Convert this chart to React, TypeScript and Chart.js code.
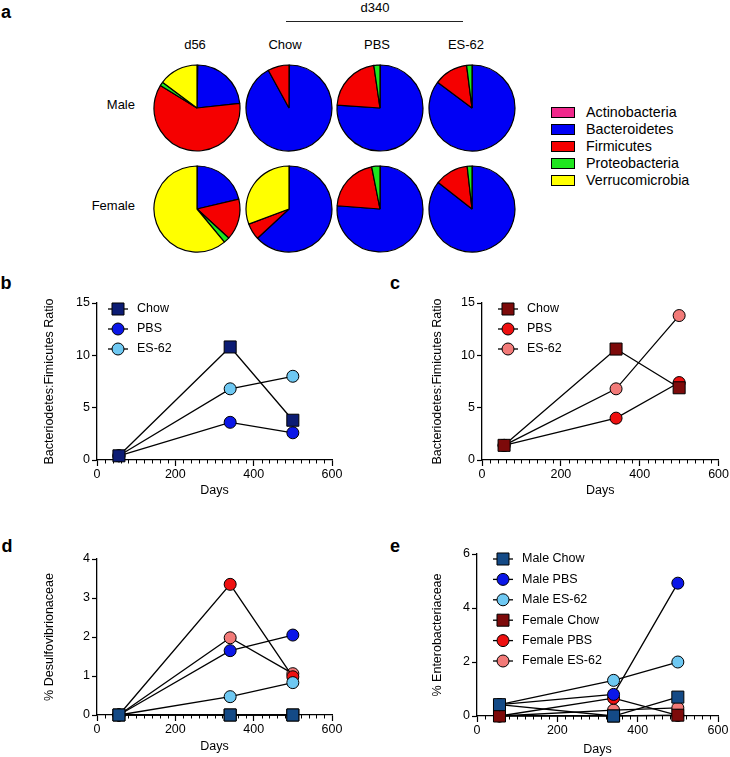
import React, { useEffect, useRef } from "react";
import { Chart, registerables } from "chart.js";

Chart.register(...registerables);

const FONT = "'Liberation Sans', Arial, Helvetica, sans-serif";
Chart.defaults.font.family = FONT;
Chart.defaults.color = "#000";

// ---------------- data: panel a (relative abundance, %) ----------------
const phyla = ["Actinobacteria", "Bacteroidetes", "Firmicutes", "Proteobacteria", "Verrucomicrobia"];
const pieColumns = ["d56", "Chow", "PBS", "ES-62"];
const pieRows = ["Male", "Female"];
const maleD56 = [0.3, 23.0, 60.5, 1.4, 14.8];
const maleChow = [0.1, 91.9, 8.0, 0, 0];
const malePBS = [0.1, 76.0, 21.6, 2.3, 0];
const maleES62 = [0.1, 85.1, 12.8, 2.0, 0];
const femaleD56 = [0.1, 21.2, 15.5, 2.2, 61.0];
const femaleChow = [0.1, 63.0, 6.2, 0, 30.7];
const femalePBS = [0.1, 76.1, 20.7, 3.1, 0];
const femaleES62 = [0.1, 85.5, 12.6, 1.8, 0];

// ---------------- data: panels b-e ----------------
const days = [56, 340, 500];
const dayTicks = [0, 200, 400, 600];
const ratioTicks = [0, 5, 10, 15];
const desulfoTicks = [0, 1, 2, 3, 4];
const enteroTicks = [0, 2, 4, 6];

const ratioMaleChow = [0.4, 10.8, 3.8];
const ratioMalePBS = [0.4, 3.6, 2.6];
const ratioMaleES62 = [0.4, 6.8, 8.0];
const ratioFemaleChow = [1.4, 10.6, 6.9];
const ratioFemalePBS = [1.4, 4.0, 7.4];
const ratioFemaleES62 = [1.4, 6.8, 13.8];

const desulfoMaleChow = [0, 0, 0];
const desulfoMalePBS = [0, 1.65, 2.05];
const desulfoMaleES62 = [0, 0.47, 0.83];
const desulfoFemaleChow = [0, 0, 0];
const desulfoFemalePBS = [0, 3.35, 0.98];
const desulfoFemaleES62 = [0, 1.98, 1.06];

const enteroMaleChow = [0.42, 0.0, 0.7];
const enteroMalePBS = [0.42, 0.8, 4.92];
const enteroMaleES62 = [0.42, 1.32, 2.0];
const enteroFemaleChow = [0.0, 0.0, 0.03];
const enteroFemalePBS = [0.0, 0.66, 0.02];
const enteroFemaleES62 = [0.0, 0.22, 0.3];

// ---------------- styles ----------------
const phylaColors = ["#f0288c", "#0000f5", "#f50000", "#1ee61e", "#ffff00"];
const cNavy = "#0c1c74";
const cMaleChow = "#144a86";
const cMalePBS = "#0b17e8";
const cMaleES = "#6ec8f2";
const cFemaleChow = "#7d0a0a";
const cFemalePBS = "#ee1010";
const cFemaleES = "#f27a78";

type Series = { label: string; values: number[]; color: string; square: boolean };

type PanelSpec = {
  left: number; top: number; width: number; height: number;
  area: { left: number; top: number; right: number; bottom: number };
  yTicks: number[];
  yTitle: string;
  yTitleX: number;
  daysY: number;
  legend: { x: number; y0: number; dy: number } | null;
  series: Series[];
};

const CIRCLE_R = 6;
const SQUARE_R = 8.5;
const TXT = 12.5;

function makeLineConfig(p: PanelSpec): any {
  const lh = TXT * 1.2;
  const plugin = {
    id: "prismDecor",
    beforeDatasetsDraw(chart: any) {
      const ctx = chart.ctx;
      const xs = chart.scales.x;
      const bottom = chart.chartArea.bottom;
      ctx.save();
      ctx.strokeStyle = "#000";
      ctx.lineWidth = 1;
      for (let v = 20; v < 600; v += 20) {
        if (v % 200 === 0) continue;
        const px = Math.round(xs.getPixelForValue(v)) + 0.5;
        ctx.beginPath();
        ctx.moveTo(px, bottom);
        ctx.lineTo(px, bottom + 3.5);
        ctx.stroke();
      }
      ctx.restore();
    },
    afterDraw(chart: any) {
      if (!p.legend) return;
      const ctx = chart.ctx;
      ctx.save();
      p.series.forEach((s, i) => {
        const cx = p.legend!.x - p.left;
        const cy = p.legend!.y0 + i * p.legend!.dy - p.top;
        ctx.strokeStyle = "#000";
        ctx.lineWidth = 1.3;
        ctx.beginPath();
        ctx.moveTo(cx - 10, cy);
        ctx.lineTo(cx + 10, cy);
        ctx.stroke();
        ctx.fillStyle = s.color;
        ctx.lineWidth = 1;
        ctx.beginPath();
        if (s.square) {
          const h = SQUARE_R * Math.SQRT1_2;
          ctx.rect(cx - h, cy - h, 2 * h, 2 * h);
        } else {
          ctx.arc(cx, cy, CIRCLE_R, 0, Math.PI * 2);
        }
        ctx.fill();
        ctx.stroke();
        ctx.fillStyle = "#000";
        ctx.font = `${TXT}px ${FONT}`;
        ctx.textBaseline = "middle";
        ctx.textAlign = "left";
        ctx.fillText(s.label, cx + 19, cy);
      });
      ctx.restore();
    },
  };
  const yMax = p.yTicks[p.yTicks.length - 1];
  return {
    type: "line",
    data: {
      datasets: p.series.map((s) => ({
        label: s.label,
        data: days.map((d, i) => ({ x: d, y: s.values[i] })),
        borderColor: "#000",
        borderWidth: 1.3,
        backgroundColor: s.color,
        pointBackgroundColor: s.color,
        pointBorderColor: "#000",
        pointBorderWidth: 1,
        pointRadius: s.square ? SQUARE_R : CIRCLE_R,
        pointStyle: s.square ? "rect" : "circle",
        tension: 0,
        fill: false,
        clip: false,
      })),
    },
    options: {
      responsive: false,
      animation: false,
      events: [],
      layout: {
        autoPadding: false,
        padding: {
          left: 0,
          bottom: 0,
          top: p.area.top - p.top,
          right: p.left + p.width - p.area.right,
        },
      },
      plugins: { legend: { display: false }, tooltip: { enabled: false } },
      scales: {
        x: {
          type: "linear",
          min: 0,
          max: 600,
          afterBuildTicks: (s: any) => { s.ticks = dayTicks.map((v) => ({ value: v })); },
          afterFit: (s: any) => { s.height = p.top + p.height - p.area.bottom; },
          ticks: { font: { size: TXT }, padding: 1, maxRotation: 0, autoSkip: false, color: "#000" },
          grid: { display: true, drawOnChartArea: false, drawTicks: true, tickLength: 6, tickColor: "#000", tickWidth: 1.2, color: "#000" },
          border: { display: true, color: "#000", width: 1.3 },
          title: {
            display: true,
            text: "Days",
            font: { size: TXT },
            color: "#000",
            padding: { top: 0, bottom: p.top + p.height - p.daysY - lh / 2 },
          },
        },
        y: {
          type: "linear",
          min: 0,
          max: yMax,
          afterBuildTicks: (s: any) => { s.ticks = p.yTicks.map((v) => ({ value: v })); },
          afterFit: (s: any) => { s.width = p.area.left - p.left; },
          ticks: { font: { size: TXT }, padding: 2, color: "#000" },
          grid: { display: true, drawOnChartArea: false, drawTicks: true, tickLength: 5, tickColor: "#000", tickWidth: 1.2, color: "#000" },
          border: { display: true, color: "#000", width: 1.3 },
          title: {
            display: true,
            text: p.yTitle,
            font: { size: TXT },
            color: "#000",
            padding: { top: p.yTitleX - p.left - lh / 2, bottom: 0 },
          },
        },
      },
    },
    plugins: [plugin],
  };
}

const panelB: PanelSpec = {
  left: 0, top: 270, width: 365, height: 235,
  area: { left: 97, top: 303, right: 332, bottom: 460 },
  yTicks: ratioTicks,
  yTitle: "Bacteriodetes:Fimicutes Ratio",
  yTitleX: 50,
  daysY: 491,
  legend: { x: 118, y0: 309, dy: 20 },
  series: [
    { label: "Chow", values: ratioMaleChow, color: cNavy, square: true },
    { label: "PBS", values: ratioMalePBS, color: cMalePBS, square: false },
    { label: "ES-62", values: ratioMaleES62, color: cMaleES, square: false },
  ],
};

const panelC: PanelSpec = {
  left: 365, top: 270, width: 365, height: 235,
  area: { left: 482, top: 303, right: 720, bottom: 460 },
  yTicks: ratioTicks,
  yTitle: "Bacteriodetes:Fimicutes Ratio",
  yTitleX: 438,
  daysY: 491,
  legend: { x: 508, y0: 309, dy: 20 },
  series: [
    { label: "Chow", values: ratioFemaleChow, color: cFemaleChow, square: true },
    { label: "PBS", values: ratioFemalePBS, color: cFemalePBS, square: false },
    { label: "ES-62", values: ratioFemaleES62, color: cFemaleES, square: false },
  ],
};

const panelD: PanelSpec = {
  left: 0, top: 530, width: 365, height: 227,
  area: { left: 97, top: 559, right: 332, bottom: 715 },
  yTicks: desulfoTicks,
  yTitle: "% Desulfovibrionaceae",
  yTitleX: 50,
  daysY: 747,
  legend: null,
  series: [
    { label: "Male Chow", values: desulfoMaleChow, color: cMaleChow, square: true },
    { label: "Male PBS", values: desulfoMalePBS, color: cMalePBS, square: false },
    { label: "Male ES-62", values: desulfoMaleES62, color: cMaleES, square: false },
    { label: "Female Chow", values: desulfoFemaleChow, color: cFemaleChow, square: true },
    { label: "Female PBS", values: desulfoFemalePBS, color: cFemalePBS, square: false },
    { label: "Female ES-62", values: desulfoFemaleES62, color: cFemaleES, square: false },
  ],
};

const panelE: PanelSpec = {
  left: 365, top: 530, width: 365, height: 227,
  area: { left: 477, top: 554, right: 718, bottom: 716 },
  yTicks: enteroTicks,
  yTitle: "% Enterobacteriaceae",
  yTitleX: 438,
  daysY: 750,
  legend: { x: 503, y0: 559, dy: 20.4 },
  series: [
    { label: "Male Chow", values: enteroMaleChow, color: cMaleChow, square: true },
    { label: "Male PBS", values: enteroMalePBS, color: cMalePBS, square: false },
    { label: "Male ES-62", values: enteroMaleES62, color: cMaleES, square: false },
    { label: "Female Chow", values: enteroFemaleChow, color: cFemaleChow, square: true },
    { label: "Female PBS", values: enteroFemalePBS, color: cFemalePBS, square: false },
    { label: "Female ES-62", values: enteroFemaleES62, color: cFemaleES, square: false },
  ],
};

function makePieConfig(values: number[]): any {
  return {
    type: "pie",
    data: {
      labels: phyla,
      datasets: [
        {
          data: values,
          backgroundColor: phylaColors,
          borderColor: "#000",
          borderWidth: 1.2,
        },
      ],
    },
    options: {
      responsive: false,
      animation: false,
      events: [],
      radius: 43,
      layout: { padding: 0 },
      plugins: { legend: { display: false }, tooltip: { enabled: false } },
    },
  };
}

function ChartCanvas(props: { left: number; top: number; width: number; height: number; make: () => any }) {
  const ref = useRef<HTMLCanvasElement | null>(null);
  useEffect(() => {
    const chart = new Chart(ref.current as HTMLCanvasElement, props.make());
    return () => chart.destroy();
  }, []);
  return (
    <canvas
      ref={ref}
      width={props.width}
      height={props.height}
      style={{ position: "absolute", left: props.left, top: props.top, width: props.width, height: props.height }}
    />
  );
}

function Txt(props: { x: number; y: number; size: number; bold?: boolean; align?: "center" | "left" | "right"; children: any }) {
  const align = props.align || "center";
  const tx = align === "center" ? "-50%" : align === "right" ? "-100%" : "0";
  return (
    <div
      style={{
        position: "absolute",
        left: props.x,
        top: props.y,
        transform: `translate(${tx}, -50%)`,
        fontFamily: FONT,
        fontSize: props.size,
        fontWeight: props.bold ? "bold" : "normal",
        lineHeight: 1,
        whiteSpace: "nowrap",
        color: "#000",
      }}
    >
      {props.children}
    </div>
  );
}

const pieCentersX = [197, 289, 380, 472];
const pieCentersY = [108, 209];
const colLabelX = [195, 285, 377, 466];
const pieData = [
  [maleD56, maleChow, malePBS, maleES62],
  [femaleD56, femaleChow, femalePBS, femaleES62],
];
const legendRowsY = [112, 129, 146, 163, 180];

export default function App() {
  return (
    <div style={{ position: "absolute", left: 0, top: 0, width: 730, height: 757, background: "#fff", overflow: "hidden" }}>
      {/* panel letters */}
      <Txt x={6} y={12} size={18} bold>a</Txt>
      <Txt x={6} y={283} size={18} bold>b</Txt>
      <Txt x={395} y={283} size={18} bold>c</Txt>
      <Txt x={7} y={546} size={18} bold>d</Txt>
      <Txt x={395} y={546} size={18} bold>e</Txt>

      {/* panel a header */}
      <Txt x={375} y={7} size={13}>d340</Txt>
      <div style={{ position: "absolute", left: 286, top: 20.5, width: 177, height: 1.5, background: "#222" }} />
      {pieColumns.map((c, i) => (
        <Txt key={c} x={colLabelX[i]} y={44} size={13}>{c}</Txt>
      ))}
      {pieRows.map((r, i) => (
        <Txt key={r} x={135} y={pieCentersY[i] - 4} size={13} align="right">{r}</Txt>
      ))}
      {pieData.map((row, ri) =>
        row.map((vals, ci) => (
          <ChartCanvas
            key={`${ri}-${ci}`}
            left={pieCentersX[ci] - 45}
            top={pieCentersY[ri] - 45}
            width={90}
            height={90}
            make={() => makePieConfig(vals)}
          />
        ))
      )}
      {phyla.map((ph, i) => (
        <React.Fragment key={ph}>
          <div
            style={{
              position: "absolute",
              left: 551,
              top: legendRowsY[i] - 5,
              width: 22,
              height: 9,
              background: phylaColors[i],
              border: "1px solid #000",
            }}
          />
          <Txt x={586} y={legendRowsY[i]} size={14.3} align="left">{ph}</Txt>
        </React.Fragment>
      ))}

      {[panelB, panelC, panelD, panelE].map((p, i) => (
        <ChartCanvas key={i} left={p.left} top={p.top} width={p.width} height={p.height} make={() => makeLineConfig(p)} />
      ))}
    </div>
  );
}
